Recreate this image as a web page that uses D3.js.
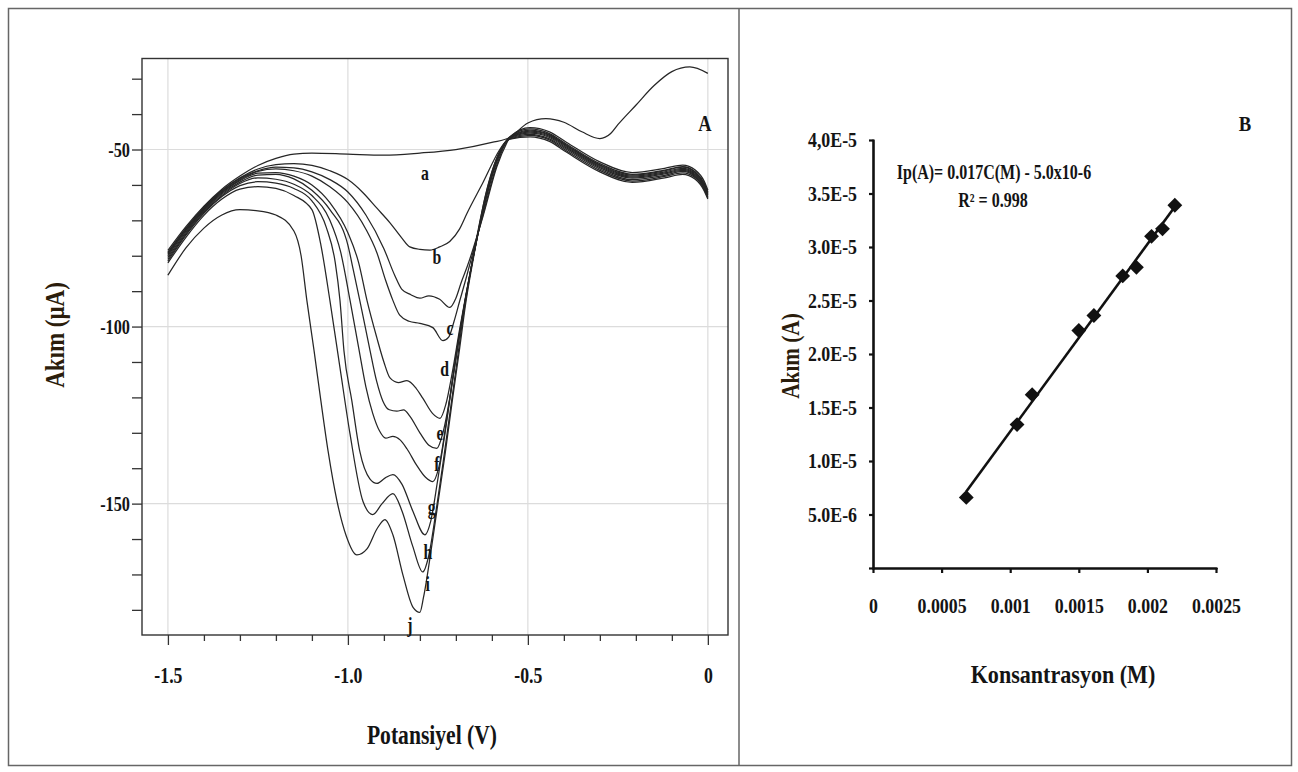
<!DOCTYPE html>
<html>
<head>
<meta charset="utf-8">
<script src="https://cdn.jsdelivr.net/npm/d3@7"></script>
<style>
  body { margin: 0; background: #fff; }
  svg text { font-family: "Liberation Serif", "Times New Roman", serif; font-weight: bold; fill: #141414; }
</style>
</head>
<body>
<div id="figure"></div>
<script>
// Panel A: voltammograms, each point is [potential (V), current (µA)]
const curve_a = [[-1.5,-78.5],[-1.45,-71.8],[-1.4,-66],[-1.35,-61.2],[-1.3,-57.5],[-1.25,-54.5],[-1.2,-52.5],[-1.15,-51.3],[-1.1,-51],[-1.0,-51.3],[-0.9,-51.6],[-0.8,-51],[-0.7,-50],[-0.6,-48],[-0.55,-46.6],[-0.5,-42.5],[-0.45,-41.3],[-0.4,-42.3],[-0.35,-45],[-0.3,-46.9],[-0.27,-45.5],[-0.25,-43],[-0.2,-37.5],[-0.15,-32],[-0.1,-28],[-0.05,-26.7],[0,-28.5]];
const curve_b = [[-1.5,-79],[-1.45,-72.2],[-1.4,-66.3],[-1.35,-61.5],[-1.3,-58],[-1.25,-55.5],[-1.2,-54.3],[-1.15,-54],[-1.1,-54.5],[-1.05,-56],[-1.0,-58.5],[-0.958,-62.2],[-0.92,-66.5],[-0.883,-70.7],[-0.85,-75],[-0.828,-77.5],[-0.8,-78.2],[-0.772,-78.4],[-0.745,-77.5],[-0.717,-76],[-0.69,-72.5],[-0.669,-68],[-0.625,-59.4],[-0.578,-50],[-0.55,-46.4],
  [-0.494,-43.8],[-0.44,-45],[-0.392,-48],[-0.3,-53.5],[-0.21,-56.5],[-0.12,-55.3],[-0.07,-54.4],[-0.035,-55.8],[-0.01,-59],[0,-61.5]];
const curve_c = [[-1.5,-79.3],[-1.45,-72.4],[-1.4,-66.5],[-1.35,-61.7],[-1.3,-58.2],[-1.25,-56],[-1.2,-55],[-1.15,-55.2],[-1.1,-56.3],[-1.05,-58.5],[-1.0,-62],[-0.95,-68.5],[-0.9,-78],[-0.87,-85.5],[-0.85,-89.5],[-0.825,-91],[-0.8,-92],[-0.775,-91.3],[-0.745,-92.3],[-0.717,-94.6],[-0.7,-92],[-0.685,-87.5],[-0.669,-83.2],[-0.625,-69],[-0.586,-54.8],[-0.558,-48],[-0.55,-46.5],
  [-0.494,-44.2],[-0.44,-45.5],[-0.392,-48.5],[-0.3,-54],[-0.21,-57],[-0.12,-55.8],[-0.07,-54.8],[-0.035,-56.3],[-0.01,-59.5],[0,-62]];
const curve_d = [[-1.5,-79.6],[-1.45,-72.7],[-1.4,-66.8],[-1.35,-62],[-1.3,-58.5],[-1.25,-56.2],[-1.2,-55.5],[-1.15,-56],[-1.1,-57.5],[-1.05,-60.5],[-1.0,-65],[-0.95,-72.5],[-0.92,-79],[-0.895,-87],[-0.875,-92.6],[-0.856,-96.8],[-0.83,-98.5],[-0.8,-99.1],[-0.764,-100.3],[-0.736,-104],[-0.72,-103],[-0.705,-98.5],[-0.69,-93],[-0.672,-86.5],[-0.655,-80],[-0.625,-68.5],[-0.59,-55.5],[-0.562,-48.3],[-0.55,-46.6],
  [-0.494,-44.5],[-0.44,-45.8],[-0.392,-48.8],[-0.3,-54.3],[-0.21,-57.2],[-0.12,-56],[-0.07,-55],[-0.035,-56.5],[-0.01,-59.8],[0,-62.2]];
const curve_e = [[-1.5,-80],[-1.45,-73],[-1.4,-67],[-1.35,-62.3],[-1.3,-58.8],[-1.25,-56.7],[-1.2,-56.5],[-1.15,-57.5],[-1.1,-60],[-1.05,-65],[-1.0,-73.5],[-0.97,-82],[-0.947,-92.6],[-0.92,-103],[-0.9,-110],[-0.883,-114.5],[-0.86,-115.8],[-0.836,-115.3],[-0.81,-117.5],[-0.792,-120.2],[-0.765,-124.5],[-0.744,-125.9],[-0.728,-122],[-0.71,-113],[-0.69,-101],[-0.672,-91],[-0.655,-82],[-0.63,-70],[-0.595,-56],[-0.563,-48.2],[-0.55,-46.6],
  [-0.494,-44.8],[-0.44,-46],[-0.392,-49],[-0.3,-54.5],[-0.21,-57.5],[-0.12,-56.3],[-0.07,-55.3],[-0.035,-56.8],[-0.01,-60],[0,-62.5]];
const curve_f = [[-1.5,-80.5],[-1.45,-73.4],[-1.4,-67.3],[-1.35,-62.6],[-1.3,-59.2],[-1.25,-57.2],[-1.2,-57],[-1.15,-58.3],[-1.1,-61.5],[-1.05,-67],[-1.0,-77],[-0.985,-84],[-0.967,-92.6],[-0.94,-106],[-0.92,-115.5],[-0.903,-121],[-0.885,-123.5],[-0.864,-123.9],[-0.845,-123.5],[-0.828,-125.3],[-0.8,-130],[-0.775,-133.5],[-0.753,-134.4],[-0.736,-130],[-0.715,-119],[-0.695,-105],[-0.675,-93],[-0.655,-82],[-0.632,-70.5],[-0.598,-57],[-0.565,-48.5],[-0.55,-46.7],
  [-0.494,-45.1],[-0.44,-46.3],[-0.392,-49.3],[-0.3,-54.8],[-0.21,-57.8],[-0.12,-56.6],[-0.07,-55.6],[-0.035,-57.1],[-0.01,-60.3],[0,-62.8]];
const curve_g = [[-1.5,-81],[-1.45,-73.8],[-1.4,-67.7],[-1.35,-63],[-1.3,-59.6],[-1.25,-58],[-1.2,-58.4],[-1.15,-59.8],[-1.1,-63],[-1.05,-70],[-1.02,-79],[-0.994,-92.6],[-0.97,-106],[-0.95,-117],[-0.931,-124.5],[-0.912,-129.5],[-0.895,-131.5],[-0.875,-131],[-0.855,-132],[-0.836,-134.5],[-0.81,-139],[-0.785,-142.5],[-0.764,-143.8],[-0.748,-140],[-0.728,-128],[-0.708,-114],[-0.688,-101],[-0.668,-89],[-0.645,-77],[-0.608,-60],[-0.569,-49],[-0.55,-46.8],
  [-0.494,-45.4],[-0.44,-46.6],[-0.392,-49.6],[-0.3,-55.1],[-0.21,-58.1],[-0.12,-56.9],[-0.07,-55.9],[-0.035,-57.4],[-0.01,-60.6],[0,-63]];
const curve_h = [[-1.5,-81.5],[-1.45,-74.2],[-1.4,-68],[-1.35,-63.3],[-1.3,-60.2],[-1.25,-59.1],[-1.2,-59.5],[-1.15,-61],[-1.1,-64.5],[-1.06,-72],[-1.035,-82],[-1.022,-92.6],[-1.011,-106.8],[-0.989,-121],[-0.967,-135.2],[-0.939,-143],[-0.919,-144.3],[-0.897,-142.8],[-0.875,-141.8],[-0.85,-144.5],[-0.82,-152],[-0.786,-158.8],[-0.77,-155],[-0.75,-143],[-0.73,-130],[-0.712,-117],[-0.692,-104],[-0.672,-91.5],[-0.648,-78.5],[-0.61,-60.5],[-0.57,-49.2],[-0.55,-46.9],
  [-0.494,-45.7],[-0.44,-47],[-0.392,-50],[-0.3,-55.5],[-0.21,-58.5],[-0.12,-57.3],[-0.07,-56.2],[-0.035,-57.7],[-0.01,-61],[0,-63.4]];
const curve_i = [[-1.5,-82],[-1.45,-74.8],[-1.4,-68.6],[-1.35,-64],[-1.3,-61.2],[-1.25,-60.5],[-1.2,-61],[-1.15,-63],[-1.1,-67],[-1.075,-77],[-1.05,-92.6],[-1.022,-111.6],[-0.994,-130.4],[-0.958,-149.4],[-0.931,-153.1],[-0.905,-150],[-0.875,-147.2],[-0.85,-152],[-0.82,-162],[-0.792,-169.3],[-0.776,-165],[-0.755,-152],[-0.735,-138],[-0.716,-124],[-0.697,-110],[-0.678,-96],[-0.655,-82],[-0.615,-62],[-0.573,-49.5],[-0.55,-47],
  [-0.494,-46],[-0.44,-47.3],[-0.392,-50.4],[-0.3,-55.9],[-0.21,-58.9],[-0.12,-57.6],[-0.07,-56.6],[-0.035,-58],[-0.01,-61.3],[0,-63.7]];
const curve_j = [[-1.5,-85.5],[-1.45,-77.8],[-1.4,-72.2],[-1.35,-68.5],[-1.3,-67],[-1.25,-67.3],[-1.2,-68.5],[-1.15,-73],[-1.13,-80],[-1.114,-92.6],[-1.094,-106.8],[-1.075,-121],[-1.055,-135.2],[-1.03,-149.4],[-1.005,-159],[-0.975,-164.5],[-0.947,-162.8],[-0.919,-157.1],[-0.897,-154.5],[-0.875,-158.8],[-0.847,-170.2],[-0.819,-179.3],[-0.8,-180.7],[-0.79,-176.5],[-0.77,-164],[-0.75,-150],[-0.73,-136],[-0.71,-121],[-0.69,-106.5],[-0.672,-93],[-0.65,-80],[-0.618,-63],[-0.575,-50],[-0.55,-47.1],
  [-0.494,-46.4],[-0.44,-47.7],[-0.392,-50.8],[-0.3,-56.3],[-0.21,-59.3],[-0.12,-58],[-0.07,-57],[-0.035,-58.4],[-0.01,-61.7],[0,-64]];

const curveNames = ["a", "b", "c", "d", "e", "f", "g", "h", "i", "j"];
// where each letter sits on the plot, [V, µA]
const curveLabelSpots = [[-0.786,-56.5],[-0.753,-80.4],[-0.716,-100.3],[-0.731,-111.9],[-0.744,-130.1],[-0.753,-138.6],[-0.767,-150.9],[-0.778,-163.6],[-0.778,-172.7],[-0.828,-184.1]];

const potMajorTicks = [-1.5, -1.0, -0.5, 0];
const potMajorLabels = ["-1.5", "-1.0", "-0.5", "0"];
const potMinorTicks = [-1.4, -1.3, -1.2, -1.1, -0.9, -0.8, -0.7, -0.6, -0.4, -0.3, -0.2, -0.1];
const curMajorTicks = [-50, -100, -150];
const curMinorTicks = [-30, -40, -60, -70, -80, -90, -110, -120, -130, -140, -160, -170, -180];

// Panel B: calibration points
const concentration = [0.00068, 0.00105, 0.00116, 0.0015, 0.00161, 0.00182, 0.00192, 0.00203, 0.00211, 0.0022];
const peakCurrent = [6.6e-6, 1.34e-5, 1.62e-5, 2.22e-5, 2.36e-5, 2.73e-5, 2.81e-5, 3.10e-5, 3.17e-5, 3.39e-5];
const concTicks = [0, 0.0005, 0.001, 0.0015, 0.002, 0.0025];
const concTickLabels = ["0", "0.0005", "0.001", "0.0015", "0.002", "0.0025"];
const ipTicks = [0, 5e-6, 1e-5, 1.5e-5, 2e-5, 2.5e-5, 3e-5, 3.5e-5, 4e-5];
const ipTickLabels = ["", "5.0E-6", "1.0E-5", "1.5E-5", "2.0E-5", "2.5E-5", "3.0E-5", "3.5E-5", "4,0E-5"];

let W = 1298;
let H = 772;

let svg = d3
  .select("#figure")
  .append("svg")
  .attr("width", W)
  .attr("height", H);

// squeeze text horizontally around its own anchor point
function squeeze(sel, sx) {
  sel.each(function () {
    let t = d3.select(this);
    let x = +t.attr("x") || 0;
    let y = +t.attr("y") || 0;
    t.attr("transform", `translate(${x},${y}) scale(${sx},1) translate(${-x},${-y})`);
  });
}

// outer frame + divider
svg.append("rect")
  .attr("x", 8.5).attr("y", 8.5)
  .attr("width", 1283).attr("height", 757)
  .attr("fill", "none").attr("stroke", "#666").attr("stroke-width", 1.5);
svg.append("line")
  .attr("x1", 739).attr("x2", 739).attr("y1", 8).attr("y2", 766)
  .attr("stroke", "#666").attr("stroke-width", 1.5);

// ================= PANEL A =================
let boxA = { left: 142, top: 58.5, right: 728, bottom: 635 };

let xA = d3.scaleLinear().domain([-1.572, 0.056]).range([boxA.left, boxA.right]);
let yA = d3.scaleLinear().domain([-24.3, -187.1]).range([boxA.top, boxA.bottom]);

let gA = svg.append("g");

// light grid
gA.selectAll(".vgrid")
  .data(potMajorTicks)
  .join("line")
  .attr("class", "vgrid")
  .attr("x1", (d) => xA(d)).attr("x2", (d) => xA(d))
  .attr("y1", boxA.top).attr("y2", boxA.bottom)
  .attr("stroke", "#dcdcdc").attr("stroke-width", 1.2);
gA.selectAll(".hgrid")
  .data(curMajorTicks)
  .join("line")
  .attr("class", "hgrid")
  .attr("x1", boxA.left).attr("x2", boxA.right)
  .attr("y1", (d) => yA(d)).attr("y2", (d) => yA(d))
  .attr("stroke", "#dcdcdc").attr("stroke-width", 1.2);

// axes (ticks only, the frame is drawn as a rect)
let xMinorAxis = gA.append("g")
  .attr("transform", `translate(0,${boxA.bottom})`)
  .call(d3.axisBottom(xA).tickValues(potMinorTicks).tickSize(6).tickSizeOuter(0).tickFormat(""));
let xMajorAxis = gA.append("g")
  .attr("transform", `translate(0,${boxA.bottom})`)
  .call(d3.axisBottom(xA).tickValues(potMajorTicks).tickSize(10).tickSizeOuter(0).tickPadding(21)
    .tickFormat((d, i) => potMajorLabels[i]));
let yAxisA = gA.append("g")
  .attr("transform", `translate(${boxA.left},0)`)
  .call(d3.axisLeft(yA).tickValues(curMinorTicks.concat(curMajorTicks)).tickSize(10).tickSizeOuter(0).tickPadding(2)
    .tickFormat((d) => (curMajorTicks.includes(d) ? d : "")));

[xMinorAxis, xMajorAxis, yAxisA].forEach((ax) => {
  ax.select(".domain").remove();
  ax.selectAll("line").attr("stroke", "#333").attr("stroke-width", 1.3);
});
xMajorAxis.selectAll("text").attr("font-size", 24).attr("fill", "#141414").call(squeeze, 0.74);
yAxisA.selectAll("text").attr("font-size", 22).attr("fill", "#141414").call(squeeze, 0.74);

gA.append("rect")
  .attr("x", boxA.left).attr("y", boxA.top)
  .attr("width", boxA.right - boxA.left).attr("height", boxA.bottom - boxA.top)
  .attr("fill", "none").attr("stroke", "#333").attr("stroke-width", 1.4);

// curves
let allCurves = [curve_a, curve_b, curve_c, curve_d, curve_e, curve_f, curve_g, curve_h, curve_i, curve_j];
let lineA = d3.line()
  .x((d) => xA(d[0]))
  .y((d) => yA(d[1]))
  .curve(d3.curveMonotoneX);

gA.selectAll(".curve")
  .data(allCurves)
  .join("path")
  .attr("class", "curve")
  .attr("d", lineA)
  .attr("fill", "none")
  .attr("stroke", "#262626")
  .attr("stroke-width", 1.25);

gA.selectAll(".curvelabel")
  .data(curveLabelSpots)
  .join("text")
  .attr("class", "curvelabel")
  .attr("x", (d) => xA(d[0]))
  .attr("y", (d) => yA(d[1]))
  .attr("dy", "0.35em")
  .attr("text-anchor", "middle")
  .attr("font-size", 21)
  .text((d, i) => curveNames[i])
  .call(squeeze, 0.75);

svg.append("text")
  .attr("x", 705).attr("y", 131)
  .attr("text-anchor", "middle")
  .attr("font-size", 23)
  .text("A")
  .call(squeeze, 0.8);

svg.append("text")
  .attr("x", 432).attr("y", 744)
  .attr("text-anchor", "middle")
  .attr("font-size", 27)
  .text("Potansiyel (V)")
  .call(squeeze, 0.8);

svg.append("text")
  .attr("transform", "translate(55,335) rotate(-90) scale(0.85,1)")
  .attr("text-anchor", "middle")
  .attr("dy", "0.35em")
  .attr("font-size", 27)
  .style("fill", "#2b1d0c")
  .text("Akım (µA)");

// ================= PANEL B =================
let boxB = { left: 873, top: 140, right: 1216, bottom: 568 };

let xB = d3.scaleLinear().domain([0, 0.0025]).range([boxB.left, boxB.right]);
let yB = d3.scaleLinear().domain([0, 4e-5]).range([boxB.bottom, boxB.top]);

let gB = svg.append("g");

let xAxisB = gB.append("g")
  .attr("transform", `translate(0,${boxB.bottom})`)
  .call(d3.axisBottom(xB).tickValues(concTicks).tickSize(5).tickSizeOuter(0).tickPadding(25)
    .tickFormat((d, i) => concTickLabels[i]));
let yAxisB = gB.append("g")
  .attr("transform", `translate(${boxB.left},0)`)
  .call(d3.axisLeft(yB).tickValues(ipTicks).tickSize(4).tickSizeOuter(0).tickPadding(12)
    .tickFormat((d, i) => ipTickLabels[i]));

[xAxisB, yAxisB].forEach((ax) => {
  ax.select(".domain").attr("stroke", "#111").attr("stroke-width", 2.6).attr("stroke-linecap", "round");
  ax.selectAll("line").attr("stroke", "#111").attr("stroke-width", 2.2);
  ax.selectAll("text").attr("font-size", 21).attr("fill", "#141414").call(squeeze, 0.85);
});

// least squares line through the calibration points
let mx = d3.mean(concentration);
let my = d3.mean(peakCurrent);
let sxy = d3.sum(concentration, (c, i) => (c - mx) * (peakCurrent[i] - my));
let sxx = d3.sum(concentration, (c) => (c - mx) * (c - mx));
let slope = sxy / sxx;
let icpt = my - slope * mx;
let cExt = d3.extent(concentration);

gB.append("line")
  .attr("x1", xB(cExt[0])).attr("y1", yB(slope * cExt[0] + icpt))
  .attr("x2", xB(cExt[1])).attr("y2", yB(slope * cExt[1] + icpt))
  .attr("stroke", "#111").attr("stroke-width", 2.6);

let calib = concentration.map((c, i) => ({ c: c, ip: peakCurrent[i] }));
gB.selectAll(".pt")
  .data(calib)
  .join("path")
  .attr("class", "pt")
  .attr("d", d3.symbol(d3.symbolSquare, 110))
  .attr("transform", (d) => `translate(${xB(d.c)},${yB(d.ip)}) rotate(45)`)
  .attr("fill", "#111");

svg.append("text")
  .attr("x", 994).attr("y", 179)
  .attr("text-anchor", "middle")
  .attr("font-size", 20)
  .text("Ip(A)= 0.017C(M) - 5.0x10-6")
  .call(squeeze, 0.8);
svg.append("text")
  .attr("x", 993).attr("y", 207)
  .attr("text-anchor", "middle")
  .attr("font-size", 20)
  .text("R² = 0.998")
  .call(squeeze, 0.8);

svg.append("text")
  .attr("x", 1245).attr("y", 131)
  .attr("text-anchor", "middle")
  .attr("font-size", 22)
  .text("B")
  .call(squeeze, 0.85);

svg.append("text")
  .attr("x", 1063).attr("y", 683)
  .attr("text-anchor", "middle")
  .attr("font-size", 26)
  .text("Konsantrasyon (M)")
  .call(squeeze, 0.85);

svg.append("text")
  .attr("transform", "translate(790,356) rotate(-90) scale(0.85,1)")
  .attr("text-anchor", "middle")
  .attr("dy", "0.35em")
  .attr("font-size", 25)
  .style("fill", "#2b1d0c")
  .text("Akım (A)");
</script>
</body>
</html>
